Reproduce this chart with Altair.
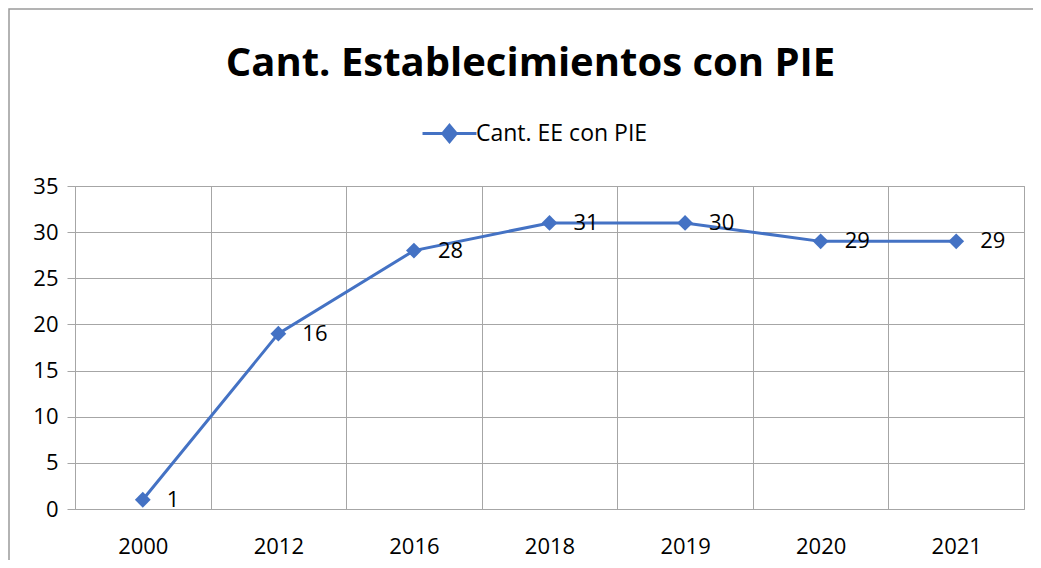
import altair as alt
import pandas as pd

years = ["2000", "2012", "2016", "2018", "2019", "2020", "2021"]
values = [1, 19, 28, 31, 31, 29, 29]
labels = ["1", "16", "28", "31", "30", "29", "29"]
series_name = "Cant. EE con PIE"
title_text = "Cant. Establecimientos con PIE"
y_ticks = [0, 5, 10, 15, 20, 25, 30, 35]

df = pd.DataFrame({
    "year": years,
    "value": values,
    "label": labels,
    "serie": [series_name] * len(years),
})

BLUE = "#4472C4"
GRID = "#a6a6a6"
FONT = "Open Sans"

W, H = 949, 323
PAD_L, PAD_T, PAD_R, PAD_B = 67, 178, 9, 51

x_enc = alt.X(
    "year:O",
    sort=years,
    scale=alt.Scale(type="band", paddingInner=0, paddingOuter=0),
    axis=alt.Axis(
        title=None, tickBand="extent", grid=True, gridColor=GRID, gridWidth=1,
        domain=False, ticks=False, labelAngle=0, labelPadding=27,
        labelFontSize=22, labelFont=FONT, labelColor="black",
    ),
)
y_enc = alt.Y(
    "value:Q",
    scale=alt.Scale(domain=[0, 35], nice=False),
    axis=alt.Axis(
        title=None, values=y_ticks, grid=True, gridColor=GRID, gridWidth=1,
        domain=False, tickColor=GRID, tickSize=8, labelPadding=9,
        labelFontSize=22, labelFont=FONT, labelColor="black",
    ),
)

legend_path = "M-4,0H4M0,-1.2L1,0L0,1.2L-1,0Z"

color_enc = alt.Color(
    "serie:N",
    scale=alt.Scale(range=[BLUE]),
    legend=alt.Legend(
        title=None, orient="none", legendX=363, legendY=-64, padding=0,
        symbolType=legend_path, symbolSize=182, symbolStrokeWidth=3,
        symbolFillColor=BLUE, symbolStrokeColor=BLUE, labelLimit=400,
        labelFontSize=23, labelFont=FONT, labelColor="black", labelOffset=15,
    ),
)

base = alt.Chart(df)

line = base.mark_line(color=BLUE, strokeWidth=3).encode(x=x_enc, y=y_enc, color=color_enc)
points = base.mark_point(shape="diamond", filled=True, size=250, color=BLUE, opacity=1).encode(
    x=x_enc, y=y_enc
)
texts = base.mark_text(align="left", baseline="middle", dx=24, fontSize=22, font=FONT, color="black").encode(
    x=x_enc, y=y_enc, text="label:N"
)

border = alt.Chart(pd.DataFrame({"a": [0]})).mark_rect(
    fill="transparent", stroke="#9a9a9a", strokeWidth=1.5
).encode(
    x=alt.value(-66), x2=alt.value(1100), y=alt.value(-177), y2=alt.value(600)
)

chart = alt.layer(border, line, points, texts).properties(
    width=W,
    height=H,
    padding={"left": PAD_L, "top": PAD_T, "right": PAD_R, "bottom": PAD_B},
    autosize=alt.AutoSizeParams(type="none"),
    title=alt.TitleParams(
        text=title_text, fontSize=40, fontWeight="bold", font=FONT, color="black",
        anchor="middle", frame="group", dx=-19, offset=-108, baseline="alphabetic",
    ),
).configure_view(stroke=GRID)

chart.save("out.html", embed_options={"renderer": "svg", "actions": False})
